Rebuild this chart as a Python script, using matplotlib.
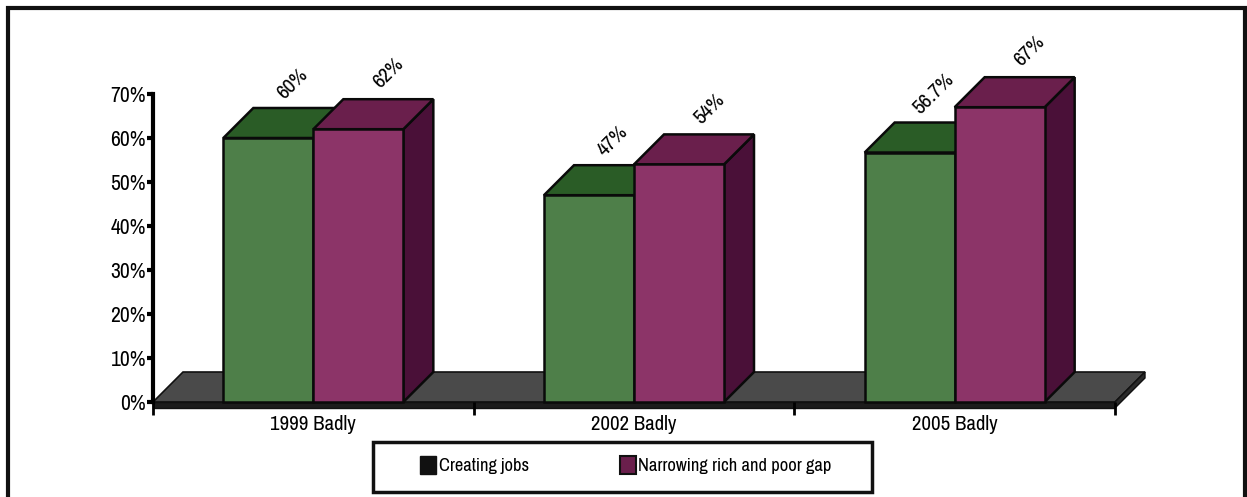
import matplotlib
matplotlib.use("Agg")
import matplotlib.pyplot as plt
from matplotlib.patches import Polygon, Rectangle, Patch
from matplotlib.ticker import FixedLocator, FuncFormatter

# ---- data ----
categories = ["1999 Badly", "2002 Badly", "2005 Badly"]
series_names = ["Creating jobs", "Narrowing rich and poor gap"]
creating_jobs = [60, 47, 56.7]
narrowing_gap = [62, 54, 67]
value_labels_jobs = ["60%", "47%", "56.7%"]
value_labels_gap = ["62%", "54%", "67%"]
y_ticks = [0, 10, 20, 30, 40, 50, 60, 70]

FONT = ["Archivo Narrow", "Liberation Sans", "DejaVu Sans"]
plt.rcParams["font.family"] = FONT

W, H = 1247, 497
fig = plt.figure(figsize=(W / 100, H / 100), dpi=100)
fig.patch.set_facecolor("white")

# plot area: x in category units, y in percent
ax_l, ax_r, ax_b, ax_t = 153, 1115, 402, 94
ax = fig.add_axes([ax_l / W, (H - ax_b) / H, (ax_r - ax_l) / W, (ax_b - ax_t) / H])
ax.set_xlim(-0.5, 2.5)
ax.set_ylim(0, 70)
ax.patch.set_alpha(0)

px_x = (ax_r - ax_l) / 3.0      # pixels per category unit
px_y = (ax_b - ax_t) / 70.0     # pixels per percent
DEPTH = 30                      # 3-D depth offset in pixels
DX = DEPTH / px_x
DY = DEPTH / px_y
BAR_W = 90 / px_x

colors = {
    "jobs": ("#4e7f49", "#2a5c26", "#1d4519"),
    "gap": ("#8c3468", "#6a1f4c", "#4a1038"),
}

# floor with a thin front slab
slab = 6 / px_y
floor_top = Polygon([(-0.5, 0), (2.5, 0), (2.5 + DX, DY), (-0.5 + DX, DY)],
                    closed=True, facecolor="#4a4a4a", edgecolor="#111111",
                    lw=1.2, clip_on=False, zorder=1)
floor_front = Polygon([(-0.5, 0), (2.5, 0), (2.5, -slab), (-0.5, -slab)],
                      closed=True, facecolor="#1c1c1c", edgecolor="#111111",
                      lw=1, clip_on=False, zorder=1)
floor_side = Polygon([(2.5, 0), (2.5 + DX, DY), (2.5 + DX, DY - slab), (2.5, -slab)],
                     closed=True, facecolor="#2a2a2a", edgecolor="#111111",
                     lw=1, clip_on=False, zorder=1)
for p in (floor_top, floor_front, floor_side):
    ax.add_patch(p)


def bar3d(x0, h, cols, z):
    front_c, top_c, side_c = cols
    x1 = x0 + BAR_W
    kw = dict(closed=True, edgecolor="#0a0a0a", lw=1.8, clip_on=False, zorder=z)
    ax.add_patch(Polygon([(x1, 0), (x1 + DX, DY), (x1 + DX, h + DY), (x1, h)],
                         facecolor=side_c, **kw))
    ax.add_patch(Polygon([(x0, h), (x1, h), (x1 + DX, h + DY), (x0 + DX, h + DY)],
                         facecolor=top_c, **kw))
    ax.add_patch(Polygon([(x0, 0), (x1, 0), (x1, h), (x0, h)],
                         facecolor=front_c, **kw))


for i in range(len(categories)):
    bar3d(i - BAR_W, creating_jobs[i], colors["jobs"], 3)
    bar3d(i, narrowing_gap[i], colors["gap"], 4)
    ax.annotate(value_labels_jobs[i], (i - BAR_W / 2 + DX, creating_jobs[i] + DY),
                xytext=(-6, 5), textcoords="offset pixels", rotation=45,
                ha="center", va="bottom", fontsize=15, zorder=6,
                annotation_clip=False)
    ax.annotate(value_labels_gap[i], (i + BAR_W / 2 + DX, narrowing_gap[i] + DY),
                xytext=(0, 7), textcoords="offset pixels", rotation=45,
                ha="center", va="bottom", fontsize=15, zorder=6,
                annotation_clip=False)

# axes styling
for s in ("top", "right", "bottom"):
    ax.spines[s].set_visible(False)
ax.spines["left"].set_linewidth(3)
ax.spines["left"].set_zorder(5)
ax.yaxis.set_major_locator(FixedLocator(y_ticks))
ax.yaxis.set_major_formatter(FuncFormatter(lambda v, p: f"{v:.0f}%"))
ax.tick_params(axis="y", direction="out", length=4, width=3, pad=1,
               labelsize=15.5)
ax.set_xticks(range(len(categories)))
ax.set_xticklabels(categories, fontsize=15)
ax.tick_params(axis="x", which="major", length=0, pad=9)
ax.set_xticks([-0.5, 0.5, 1.5, 2.5], minor=True)
ax.tick_params(axis="x", which="minor", direction="out", length=9, width=2)

# legend
handles = [Patch(facecolor="#111111", edgecolor="#111111"),
           Patch(facecolor="#6a1f4c", edgecolor="#111111", lw=1.5)]
fig.legend(handles, series_names, loc="center",
           bbox_to_anchor=(626 / W, (H - 465) / H), ncol=2, frameon=False,
           fontsize=13.3, handlelength=0.87, handleheight=1.1, handletextpad=0.15,
           columnspacing=4.9)
fig.add_artist(Rectangle((373 / W, (H - 492) / H), (872 - 373) / W, 50 / H,
                         transform=fig.transFigure, fill=False,
                         edgecolor="#111111", lw=2.5))

# outer frame
fig.add_artist(Rectangle((8 / W, -0.02), (1245 - 8) / W, (H - 8) / H + 0.02,
                         transform=fig.transFigure, fill=False,
                         edgecolor="#111111", lw=3))

fig.savefig("out.png", dpi=100, facecolor="white")
